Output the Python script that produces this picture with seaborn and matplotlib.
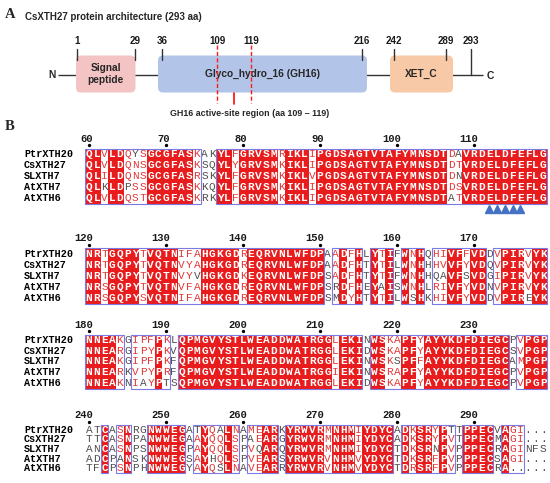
import numpy as np
import pandas as pd
import matplotlib
matplotlib.use("Agg")
import matplotlib.pyplot as plt
import seaborn as sns
from matplotlib.colors import ListedColormap
from matplotlib.patches import FancyBboxPatch, Rectangle
import matplotlib.transforms as mtrans

# ---------------- Panel A data ----------------
protein_title = "CsXTH27 protein architecture (293 aa)"
domain_names = ["Signal\npeptide", "Glyco_hydro_16 (GH16)", "XET_C"]
domain_starts = [1, 36, 242]
domain_ends = [29, 216, 289]
domain_colors = ["#F4C4C4", "#B2C5E8", "#F8C9A7"]
protein_length = 293
tick_positions = [1, 29, 36, 109, 119, 216, 242, 289, 293]
active_site = [109, 119]
active_label = "GH16 active-site region (aa 109 \u2013 119)"

# ---------------- Panel B data ----------------
seq_names = ["PtrXTH20", "CsXTH27", "SLXTH7", "AtXTH7", "AtXTH6"]
block_starts = [60, 120, 180, 240]
block1 = ["QLVLDQYSGCGFASKAKYLFGRVSMRIKLIPGDSAGTVTAFYMNSDTDAVRDELDFEFLG",
          "QLVLDQNSGCGFASKSQYLYGRVSMKIKLIPGDSAGTVTAFYMNSDTDTVRDELDFEFLG",
          "QLILDQNSGCGFASRSKYLFGRVSMKIKLVPGDSAGTVTAFYMNSDTDNVRDELDFEFLG",
          "QLKLDPSSGCGFASKKQYLFGRVSMKIKLIPGDSAGTVTAFYMNSDTDSVRDELDFEFLG",
          "QLVLDQSTGCGFASKRKYLFGRVSMKIKLIPGDSAGTVTAFYMNSDTATVRDELDFEFLG"]
block2 = ["NRTGQPYTVQTNIFAHGKGDREQRVNLWFDPAADFHLYTIFWNHQHIVFFVDDVPIRVYK",
          "NRTGQPYTVQTNVYAHGKGDREQRVNLWFDPAADFHTYTILWNHHHVVFYVDQVPIRVYK",
          "NRTGQPYTVQTNVYVHGKGDKEQRVNLWFDPSADFHTYTIFWNHHQAVFSVDGIPIRVYK",
          "NRSGQPYTVQTNVFAHGKGDREQRVNLWFDPSRDFHEYAISWNHLRIVFYVDNVPIRVYK",
          "NRSGQPYSVQTNIFAHGKGDREQRVNLWFDPSMDYHTYTILWSHKHIVFYVDDVPIREYK"]
block3 = ["NNEAKGIPFPKLQPMGVYSTLWEADDWATRGGLEKINWSKAPFYAYYKDFDIEGCPVPGP",
          "NNEARGIPYPKVQPMGVYSTLWEADDWATRGGLEKIDWSKAPFYAYYKDFDIEGCSVPGP",
          "NNEAKGIPFPKFQPMGVYSTLWEADDWATRGGLEKINWSKSPFFAYYKDFDIEGCAMPGP",
          "NNEARKVPYPRFQPMGVYSTLWEADDWATRGGIEKINWSRAPFYAYYKDFDIEGCPVPGP",
          "NNEAKNIAYPTSQPMGVYSTLWEADDWATRGGLEKIDWSKAPFYAYYKDFDIEGCPVPGP"]
block4 = ["ATCASNRGNWWEGATYQALNAMEARKYRWVRMNHMIYDYCADKSRYPTTPPECVAGI...",
          "TTCASNPANWWEGAAYQQLSPAEARGYRWVRMNHMIYDYCADKSRYPVTPPECMAGI...",
          "ANCASNPSNWWEGPAYQQLSPVQARQYRWVRMNHMIYDYCTDKSRNPVPPPECRAGINFS",
          "ADCPANSKNWWEGSAYHQLSPVEARSYRWVRVNHMVYDYCTDKSRFPVPPPECSAGI...",
          "TFCPSNPHNWWEGYAYQSLNAVEARRYRWVRVNHMVYDYCTDRSRFPVPPPECRA....."]
# '#' = column inside a blue similarity frame, '.' = outside
boxed1 = "###############..###########################################"
boxed2 = "###############################.####.###.###.#######.#######"
boxed3 = "#####.#####.########################.##################.####"
boxed4 = "..#.##..#####.######.####.##############.#######.####.###..."
marked_positions = [112, 113, 114, 115, 116]

blocks = [block1, block2, block3, block4]
boxed = [boxed1, boxed2, boxed3, boxed4]

# ---------------- style ----------------
sns.set_theme(style="white")
plt.rcParams["font.family"] = ["Liberation Sans", "DejaVu Sans"]
MONO = ["Liberation Mono", "DejaVu Sans Mono"]
SERIF = ["Liberation Serif", "DejaVu Serif"]
RED = "#e81c1c"
RED_TXT = "#e23838"
GRAY_TXT = "#505050"
BOX_BLUE = "#7a7ae2"
TRI_BLUE = "#4472c4"

W, H = 550, 483
fig = plt.figure(figsize=(W / 100, H / 100), dpi=100)
fig.patch.set_facecolor("white")

# ---------------- Panel A ----------------
axA = fig.add_axes([0, 0, 1, 1])
axA.set_xlim(0, W)
axA.set_ylim(H, 0)
axA.axis("off")
axA.patch.set_alpha(0)

# schematic (non-linear) residue -> pixel scale
RES_ANCH = [1, 29, 36, 109, 119, 216, 242, 289, 293]
PX_ANCH = [77, 135, 162, 217, 251, 362, 394, 446, 471]


def xr(r):
    return float(np.interp(r, RES_ANCH, PX_ANCH))


BB = 74.5
axA.text(10, 15, "A", fontfamily=SERIF, fontweight="bold", fontsize=10.5,
         ha="center", va="center")
axA.text(10, 127, "B", fontfamily=SERIF, fontweight="bold", fontsize=10.5,
         ha="center", va="center")
axA.text(25, 16.5, protein_title, ha="left", va="center", fontsize=7.0,
         fontweight="bold")

axA.plot([xr(1) - 19, xr(protein_length) + 12], [BB, BB], color="#333333",
         lw=1.0, zorder=1, solid_capstyle="butt")
pads = [(1, 0.5), (4, 5), (4, 7)]
for name, s, e, c, (pl, pr) in zip(domain_names, domain_starts, domain_ends,
                                   domain_colors, pads):
    x0 = xr(s) - pl
    x1 = xr(e) + pr
    box = FancyBboxPatch((x0, 55.5), x1 - x0, 37,
                         boxstyle="round,pad=0,rounding_size=5",
                         fc=c, ec="none", zorder=2)
    axA.add_patch(box)
    axA.text((x0 + x1) / 2, 74, name, ha="center", va="center", fontsize=7.3,
             fontweight="bold", color="#262626", linespacing=1.15, zorder=4)

for r in tick_positions:
    axA.text(xr(r), 41.5, str(r), ha="center", va="center", fontsize=7.0,
             fontweight="bold", color="#1a1a1a")
    if r in active_site:
        continue
    y1 = BB if r == protein_length else 60
    axA.plot([xr(r), xr(r)], [49, y1], color="#333333", lw=1.0, zorder=3)

for r in active_site:
    axA.plot([xr(r), xr(r)], [45, 103], color="#ff1a1a", lw=1.0,
             ls=(0, (3, 1.6)), zorder=5)
mid = (active_site[0] + active_site[1]) / 2
axA.plot([xr(mid), xr(mid)], [93, 103.5], color="#ff1a1a", lw=1.3, zorder=5)
axA.text(xr(active_site[1]) - 1, 114, active_label, ha="center", va="center",
         fontsize=6.4, fontweight="bold", color="#262626")
axA.text(xr(1) - 25, BB, "N", ha="center", va="center", fontsize=7.4,
         fontweight="bold", color="#262626")
axA.text(xr(protein_length) + 19, BB + 1.5, "C", ha="center", va="center",
         fontsize=7.4, fontweight="bold", color="#262626")

# ---------------- Panel B ----------------
GROUPS = ["ILVM", "FYW", "KRH", "DE", "NQ", "ST", "AG", "P", "C"]


def grp(ch):
    for k, g in enumerate(GROUPS):
        if ch in g:
            return k
    return -1


X_LEFT, COLW = 85.2, 7.7
BLOCK_TOP = [148.5, 248.5, 334.5, 425.0]
BLOCK_BOT = [203.5, 303.5, 388.5, 473.0]
NAME_X = 24

for bi, (start, seqs, bx) in enumerate(zip(block_starts, blocks, boxed)):
    arr = np.array([list(s) for s in seqs])
    nrow, ncol = arr.shape
    ident = np.array([len(set(arr[:, j])) == 1 and arr[0, j] != "."
                      for j in range(ncol)])
    fill = pd.DataFrame(np.tile(ident.astype(float), (nrow, 1)))
    top, bot = BLOCK_TOP[bi], BLOCK_BOT[bi]
    ax = fig.add_axes([X_LEFT / W, 1 - bot / H, ncol * COLW / W, (bot - top) / H])
    sns.heatmap(fill, ax=ax, cmap=ListedColormap(["white", RED]), vmin=0, vmax=1,
                cbar=False, annot=arr, fmt="", linewidths=0,
                xticklabels=False, yticklabels=False,
                annot_kws={"fontsize": 8})
    # letter styling
    for t in ax.texts:
        x, y = t.get_position()
        j, i = int(x), int(y)
        ch = arr[i, j]
        t.set_fontfamily(MONO)
        if ident[j]:
            t.set_color("white")
            t.set_fontweight("bold")
        else:
            t.set_fontweight("normal")
            col_groups = [grp(c) for c in arr[:, j] if c != "."]
            g = grp(ch)
            if bx[j] == "#" and ch != "." and col_groups.count(g) >= 2:
                t.set_color(RED_TXT)
            else:
                t.set_color(GRAY_TXT)
    # similarity frames
    j = 0
    while j < ncol:
        if bx[j] == "#":
            k = j
            while k + 1 < ncol and bx[k + 1] == "#":
                k += 1
            ax.add_patch(Rectangle((j, 0), k - j + 1, nrow, fill=False,
                                   ec=BOX_BLUE, lw=0.8, clip_on=False, zorder=6))
            j = k + 1
        else:
            j += 1
    # sequence names
    tr = mtrans.blended_transform_factory(ax.transAxes, ax.transData)
    for i, nm in enumerate(seq_names):
        ax.text(-(X_LEFT - NAME_X) / (ncol * COLW), i + 0.5, nm, transform=tr,
                ha="left", va="center", fontfamily=MONO, fontweight="bold",
                fontsize=7.3, color="black")
    # position numbers
    dot_tr = ax.transData + mtrans.ScaledTranslation(0, 3.5 / 100, fig.dpi_scale_trans)
    for c in range(ncol):
        p = start + c
        if p % 10 == 0:
            ax.annotate(str(p), xy=(c + 0.5, 0), xytext=(2.6, 7.2),
                        textcoords="offset points", ha="right", va="center",
                        fontfamily=MONO, fontsize=7.6, fontweight="bold",
                        color="#1a1a1a", annotation_clip=False)
            ax.plot([c + 0.5], [0], "o", ms=1.4, color="black",
                    transform=dot_tr, clip_on=False)
    # marked catalytic residues
    cols = [p - start for p in marked_positions if start <= p < start + ncol]
    if cols:
        tri_tr = ax.transData + mtrans.ScaledTranslation(0, -5.5 / 100,
                                                         fig.dpi_scale_trans)
        ax.plot(np.array(cols) + 0.5, [nrow] * len(cols), ls="none", marker="^",
                ms=6, color=TRI_BLUE, transform=tri_tr, clip_on=False)

fig.savefig("out.png", dpi=100, facecolor="white")
